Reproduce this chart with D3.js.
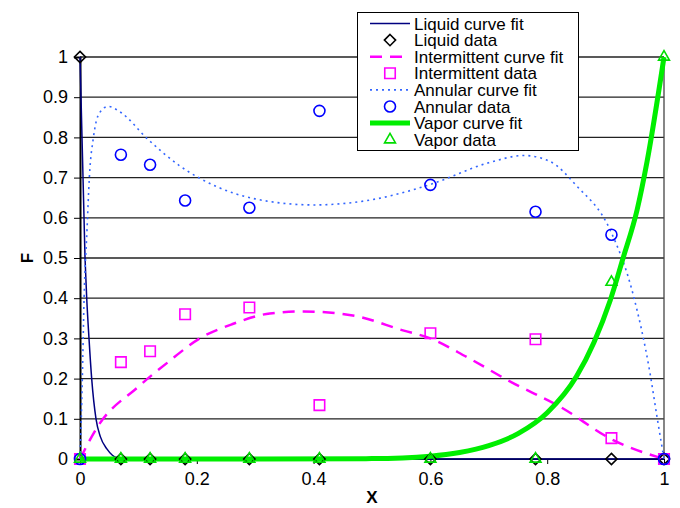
<!DOCTYPE html>
<html>
<head>
<meta charset="utf-8">
<script src="https://cdn.jsdelivr.net/npm/d3@7"></script>
<style>
  body { margin: 0; background: #fff; }
  text { font-family: "Liberation Sans", Arial, Helvetica, sans-serif; }
</style>
</head>
<body>
<script>
// measured points (same X for all four data series)
var xData = [0, 0.07, 0.12, 0.18, 0.29, 0.41, 0.6, 0.78, 0.91, 1];
var liquidData = [1, 0, 0, 0, 0, 0, 0, 0, 0, 0];
var intermittentData = [0, 0.241, 0.268, 0.36, 0.377, 0.134, 0.313, 0.298, 0.052, 0];
var annularData = [0, 0.757, 0.732, 0.643, 0.625, 0.866, 0.682, 0.615, 0.558, 0];
var vaporData = [0, 0, 0, 0, 0, 0, 0, 0, 0.44, 1];

// curve fits
var liquidFitX = [0, 0.0086, 0.0115, 0.0154, 0.02, 0.0274, 0.035, 0.046, 0.055, 0.063, 0.08, 1];
var liquidFitF = [1, 0.5, 0.4, 0.3, 0.2, 0.1, 0.055, 0.025, 0.01, 0.003, 0, 0];
var intermFitX = [0, 0.03, 0.1, 0.15, 0.205, 0.26, 0.325, 0.382, 0.467, 0.553, 0.6, 0.663, 0.74, 0.822, 0.913, 1];
var intermFitF = [0, 0.08, 0.18, 0.24, 0.3, 0.335, 0.362, 0.367, 0.357, 0.32, 0.3, 0.253, 0.19, 0.13, 0.047, 0];
var annularFitX = [0, 0.004, 0.007, 0.012, 0.016, 0.023, 0.033, 0.048, 0.07, 0.115, 0.17, 0.235, 0.3, 0.4, 0.5, 0.6, 0.7, 0.76, 0.805, 0.85, 0.908, 0.947, 0.976, 0.988, 1];
var annularFitF = [0, 0.2, 0.4, 0.57, 0.7, 0.8, 0.86, 0.877, 0.862, 0.797, 0.73, 0.677, 0.647, 0.632, 0.645, 0.683, 0.737, 0.755, 0.74, 0.68, 0.569, 0.41, 0.214, 0.105, 0];
var vaporFitX = [0, 0.3, 0.5, 0.6, 0.65, 0.7, 0.75, 0.8, 0.85, 0.88, 0.908, 0.93, 0.954, 0.971, 1];
var vaporFitF = [0, 0, 0.001, 0.007, 0.016, 0.033, 0.063, 0.115, 0.205, 0.29, 0.395, 0.5, 0.62, 0.74, 1];

var yTicks = [0, 0.1, 0.2, 0.3, 0.4, 0.5, 0.6, 0.7, 0.8, 0.9, 1];
var xTicks = [0, 0.2, 0.4, 0.6, 0.8, 1];

var W = 680, H = 508;
var svg = d3.select("body").append("svg").attr("width", W).attr("height", H);

var x = d3.scaleLinear().domain([0, 1]).range([80, 664]);
var y = d3.scaleLinear().domain([0, 1]).range([459, 57]);

// gridlines
svg.append("g").selectAll("line").data(yTicks).enter().append("line")
  .attr("x1", x(0)).attr("x2", x(1))
  .attr("y1", function (d) { return y(d); }).attr("y2", function (d) { return y(d); })
  .attr("stroke", "#222").attr("stroke-width", 1.3);
// right frame
svg.append("line").attr("x1", x(1)).attr("x2", x(1)).attr("y1", y(1)).attr("y2", y(0))
  .attr("stroke", "#444").attr("stroke-width", 1.3);

function fmt(d) { return d === 0 || d === 1 ? d3.format("d")(d) : d3.format(".1f")(d); }

// y axis
var yAxis = svg.append("g").attr("transform", "translate(" + x(0) + ",0)")
  .call(d3.axisLeft(y).tickValues(yTicks).tickSize(6).tickPadding(6).tickFormat(fmt));
yAxis.select(".domain").attr("stroke", "#000").attr("stroke-width", 2);
yAxis.selectAll("text").style("font-size", "18px").attr("fill", "#000")
  .style("font-family", "'Liberation Sans', Arial, sans-serif");

// x axis
var xAxis = svg.append("g").attr("transform", "translate(0," + y(0) + ")")
  .call(d3.axisBottom(x).tickValues(xTicks).tickSize(5).tickPadding(8).tickFormat(fmt));
xAxis.select(".domain").attr("stroke", "#000").attr("stroke-width", 1);
xAxis.selectAll("text").style("font-size", "18px").attr("fill", "#000")
  .style("font-family", "'Liberation Sans', Arial, sans-serif");

// axis titles
svg.append("text").attr("x", x(0.5)).attr("y", 503).attr("text-anchor", "middle")
  .style("font-size", "17px").style("font-weight", "bold").text("X");
svg.append("text").attr("transform", "translate(33,258) rotate(-90)").attr("text-anchor", "middle")
  .style("font-size", "17px").style("font-weight", "bold").text("F");

function pairs(xs, fs) { return xs.map(function (v, i) { return [v, fs[i]]; }); }
var line = d3.line().x(function (d) { return x(d[0]); }).y(function (d) { return y(d[1]); })
  .curve(d3.curveMonotoneX);

// curve fits
svg.append("path").datum(pairs(liquidFitX, liquidFitF)).attr("d", line)
  .attr("fill", "none").attr("stroke", "#000080").attr("stroke-width", 1.5);
svg.append("path").datum(pairs(annularFitX, annularFitF)).attr("d", line)
  .attr("fill", "none").attr("stroke", "#3366ff").attr("stroke-width", 1.6)
  .attr("stroke-dasharray", "2,4");
svg.append("path").datum(pairs(intermFitX, intermFitF)).attr("d", line)
  .attr("fill", "none").attr("stroke", "#ff00ff").attr("stroke-width", 2.5)
  .attr("stroke-dasharray", "12,8");
svg.append("path").datum(pairs(vaporFitX, vaporFitF)).attr("d", line)
  .attr("fill", "none").attr("stroke", "#00ee00").attr("stroke-width", 5);

// markers
var sym = {
  diamond: d3.symbol().type(d3.symbolDiamond2).size(80),
  square: d3.symbol().type(d3.symbolSquare).size(110),
  circle: d3.symbol().type(d3.symbolCircle).size(95),
  triangle: d3.symbol().type(d3.symbolTriangle2).size(85)
};
var series = [
  { vals: liquidData, shape: "diamond", color: "#000" },
  { vals: intermittentData, shape: "square", color: "#ff00ff" },
  { vals: annularData, shape: "circle", color: "#0000ff" },
  { vals: vaporData, shape: "triangle", color: "#00dd00" }
];
series.forEach(function (s) {
  svg.append("g").selectAll("path").data(s.vals).enter().append("path")
    .attr("d", sym[s.shape])
    .attr("transform", function (d, i) { return "translate(" + x(xData[i]) + "," + y(d) + ")"; })
    .attr("fill", "none").attr("stroke", s.color).attr("stroke-width", 1.6);
});

// legend
var lg = svg.append("g");
lg.append("rect").attr("x", 357.5).attr("y", 12.5).attr("width", 221).attr("height", 138)
  .attr("fill", "#fff").attr("stroke", "#000").attr("stroke-width", 1);
var legendItems = [
  { label: "Liquid curve fit", kind: "line", color: "#000080", w: 1.5, dash: null },
  { label: "Liquid data", kind: "diamond", color: "#000" },
  { label: "Intermittent curve fit", kind: "line", color: "#ff00ff", w: 2.5, dash: "12,8" },
  { label: "Intermittent data", kind: "square", color: "#ff00ff" },
  { label: "Annular curve fit", kind: "line", color: "#3366ff", w: 1.6, dash: "2,4" },
  { label: "Annular data", kind: "circle", color: "#0000ff" },
  { label: "Vapor curve fit", kind: "line", color: "#00ee00", w: 5, dash: null },
  { label: "Vapor data", kind: "triangle", color: "#00dd00" }
];
legendItems.forEach(function (it, i) {
  var cy = 23.5 + i * 16.6;
  if (it.kind === "line") {
    lg.append("line").attr("x1", 370).attr("x2", 410).attr("y1", cy).attr("y2", cy)
      .attr("stroke", it.color).attr("stroke-width", it.w)
      .attr("stroke-dasharray", it.dash);
  } else {
    lg.append("path").attr("d", sym[it.kind]).attr("transform", "translate(390," + cy + ")")
      .attr("fill", "none").attr("stroke", it.color).attr("stroke-width", 1.6);
  }
  lg.append("text").attr("x", 414).attr("y", cy + 6).style("font-size", "17px")
    .attr("fill", "#000").text(it.label);
});
</script>
</body>
</html>
